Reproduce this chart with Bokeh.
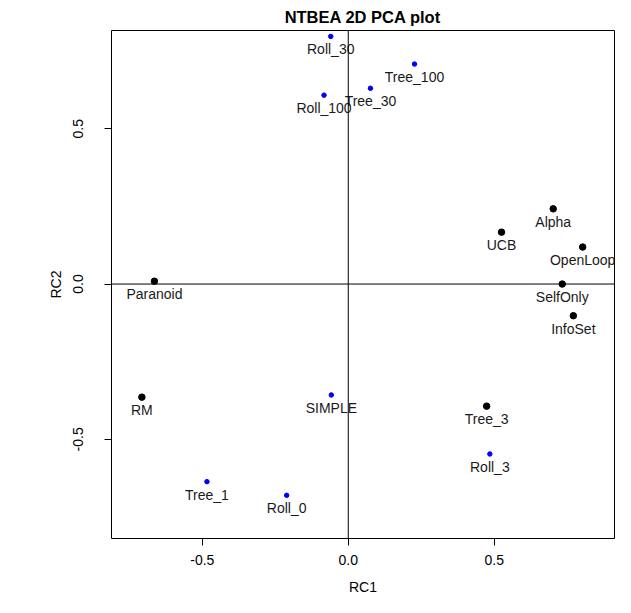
from bokeh.plotting import figure
from bokeh.models import Span, FixedTicker, PrintfTickFormatter, ColumnDataSource, Range1d
from bokeh.core.properties import value
from bokeh.embed import file_html
from bokeh.resources import INLINE

# --- data ---
black_names = ["Alpha", "UCB", "OpenLoop", "Paranoid", "SelfOnly", "InfoSet", "RM", "Tree_3"]
black_rc1 = [0.702, 0.525, 0.803, -0.664, 0.733, 0.771, -0.707, 0.474]
black_rc2 = [0.242, 0.167, 0.119, 0.009, 0.000, -0.102, -0.364, -0.393]

blue_names = ["Roll_30", "Tree_100", "Tree_30", "Roll_100", "SIMPLE", "Roll_3", "Tree_1", "Roll_0"]
blue_rc1 = [-0.060, 0.227, 0.076, -0.083, -0.058, 0.485, -0.484, -0.211]
blue_rc2 = [0.797, 0.708, 0.630, 0.608, -0.357, -0.547, -0.636, -0.680]

x_ticks = [-0.5, 0.0, 0.5]
y_ticks = [-0.5, 0.0, 0.5]
x_lim = (-0.811, 0.912)
y_lim = (-0.819, 0.816)

FONT = "Liberation Sans"

p = figure(width=615, height=597, output_backend="svg", toolbar_location=None,
           x_range=Range1d(*x_lim), y_range=Range1d(*y_lim),
           min_border_left=111, min_border_right=1, min_border_top=29, min_border_bottom=59)

p.title.text = "NTBEA 2D PCA plot"
p.title.align = "center"
p.title.text_font = FONT
p.title.text_font_size = "16.5px"
p.title.text_font_style = "bold"
p.title.text_color = "black"

p.xgrid.visible = False
p.ygrid.visible = False
p.outline_line_color = "black"
p.outline_line_width = 1
p.outline_line_alpha = 1.0
p.background_fill_color = "white"
p.border_fill_color = "white"

for ax, ticks in ((p.xaxis[0], x_ticks), (p.yaxis[0], y_ticks)):
    ax.ticker = FixedTicker(ticks=ticks)
    ax.formatter = PrintfTickFormatter(format="%.1f")
    ax.axis_line_color = None
    ax.minor_tick_line_color = None
    ax.major_tick_in = 0
    ax.major_tick_out = 7
    ax.major_tick_line_color = "black"
    ax.major_label_text_font = FONT
    ax.major_label_text_font_size = "14px"
    ax.major_label_text_color = "black"
    ax.axis_label_text_font = FONT
    ax.axis_label_text_font_size = "14px"
    ax.axis_label_text_font_style = "normal"
    ax.axis_label_text_color = "black"

p.xaxis.axis_label = "RC1"
p.yaxis.axis_label = "RC2"
p.xaxis.major_label_standoff = 9
p.xaxis.axis_label_standoff = 11
p.yaxis.major_label_orientation = "vertical"
p.yaxis.major_label_standoff = 21
p.yaxis.axis_label_standoff = 7

black_src = ColumnDataSource(dict(x=black_rc1, y=black_rc2, name=black_names))
blue_src = ColumnDataSource(dict(x=blue_rc1, y=blue_rc2, name=blue_names))

p.scatter("x", "y", source=black_src, size=6.5, color="black")
p.scatter("x", "y", source=blue_src, size=4.5, color="blue")

for src in (black_src, blue_src):
    p.text("x", "y", text="name", source=src, text_align="center", text_baseline="top",
           y_offset=5, text_font=value(FONT), text_font_size="14px", text_color="#1a1a1a")

p.add_layout(Span(location=0, dimension="width", line_color="black", line_width=1))
p.add_layout(Span(location=0, dimension="height", line_color="black", line_width=1))

open("out.html", "w").write(file_html(p, INLINE))
